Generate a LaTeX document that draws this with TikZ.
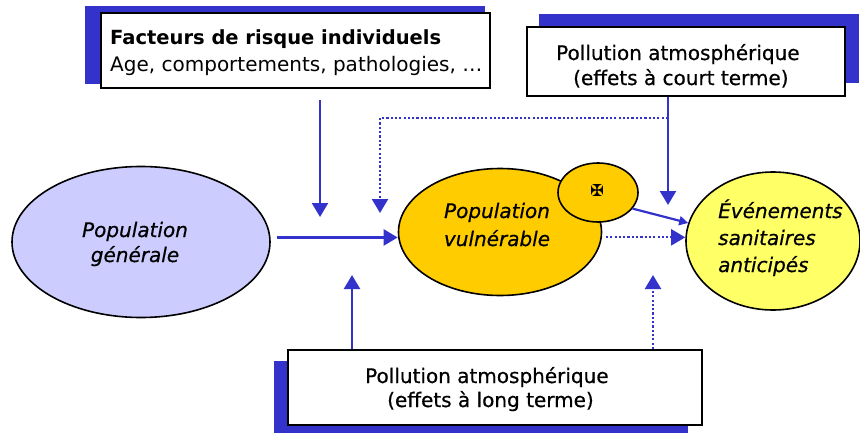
\documentclass[tikz,border=0pt]{standalone}
\usepackage{fontspec}
\setmainfont{DejaVu Sans}
\newfontfamily\epais[FakeBold=0.6]{DejaVu Sans}
\usepackage{tikz}
\usetikzlibrary{positioning,arrows.meta,calc,shapes.geometric}
\definecolor{bleu}{HTML}{3333CC}
\definecolor{mauve}{HTML}{CCCCFF}
\definecolor{orange}{HTML}{FFCC00}
\definecolor{jaune}{HTML}{FFFF66}

\begin{document}
\begin{tikzpicture}[x=1pt, y=-1pt, font=\fontsize{20}{25}\selectfont,
	boite/.style={draw=black, line width=2pt, fill=white, inner sep=0pt},
	ombre/.style={fill=bleu},
	bulle/.style={ellipse, draw=black, line width=1.6pt, inner sep=0pt},
	texte/.style={inner sep=0pt, align=left, anchor=base west},
	fleche/.style={draw=bleu, line width=2.4pt, -{Triangle[length=14pt,width=16pt]}},
	pointille/.style={fleche, line width=2.2pt, dash pattern=on 2.2pt off 2.1pt},
	petitefleche/.style={draw=bleu, line width=2.2pt, -{Triangle[length=9pt,width=9pt]}}]
		\useasboundingbox (0,0) rectangle (860,434);
		% shadows behind the three boxes
		\fill[ombre] (85,6) rectangle (485,84);
		\fill[ombre] (539,14) rectangle (859,83);
		\fill[ombre] (274,361) rectangle (688,433);
		% boxes (base anchor = last line)
		\node[boite, minimum width=389, minimum height=75] (facteurs) at (295.5,50.5) {};
		\node[boite, minimum width=318, minimum height=69] (courtterme) at (686,61.5) {};
		\node[boite, minimum width=414, minimum height=75] (longterme) at (495,387.5) {};
		\node[texte, font=\fontsize{20}{27}\selectfont] (facteurstxt) at (110,71)
			{{\fontsize{19.5}{27}\selectfont\bfseries Facteurs de risque individuels}\\Age, comportements, pathologies, …};
		\node[texte, font=\fontsize{20}{25}\selectfont\epais] (courttermetxt) at (556,85)
			{Pollution atmosphérique\\\hspace*{17pt}(effets à court terme)};
		\node[texte, font=\fontsize{20}{24}\selectfont\epais] (longtermetxt) at (365,407)
			{Pollution atmosphérique\\\hspace*{22pt}(effets à long terme)};
		% populations and outcomes
		\node[bulle, fill=mauve, minimum width=258, minimum height=151] (popgen) at (141,242) {};
		\node[bulle, fill=orange, minimum width=203, minimum height=127] (popvul) at (500,232) {};
		\node[bulle, fill=orange, minimum width=80, minimum height=59] (petit) at (598,192.5) {};
		\node[inner sep=0pt, font=\fontsize{16}{16}\selectfont\epais] (croix) at (597,190) {✠};
		\node[bulle, fill=jaune, minimum width=174, minimum height=138] (evenements) at (773,241) {};
		\node[texte, anchor=base, align=center, font=\fontsize{20}{25}\selectfont\epais\itshape]
			(popgentxt) at (135,262) {Population\\générale};
		\node[texte, anchor=base, align=center, font=\fontsize{20}{28}\selectfont\epais\itshape]
			(popvultxt) at (497,246) {Population\\vulnérable};
		\node[texte, font=\fontsize{20}{27}\selectfont\epais\itshape]
			(evenementstxt) at (718,272) {Événements\\sanitaires\\anticipés};
		% end points of the free arrows
		\coordinate (f1) at (320,217);
		\coordinate (c1) at (668,205);
		\coordinate (branche) at (668,118);
		\coordinate (v1) at (380,213);
		\coordinate (l1) at (352,275);
		\coordinate (l2) at (653,275);
		% arrows
		\draw[fleche, shorten <=11pt] (facteurs.south -| f1) -- (f1);
		\draw[fleche] (courtterme.south -| c1) -- (c1);
		\draw[pointille] (branche) -| (v1);
		\draw[fleche, shorten <=6pt] (popgen.2) -- (popgen.2 -| popvul.west);
		\draw[pointille, shorten <=4pt] (popvul.-3) -- (popvul.-3 -| evenements.west);
		\draw[petitefleche] (petit.-25) -- (evenements.168);
		\draw[fleche] (longterme.north -| l1) -- (l1);
		\draw[pointille] (longterme.north -| l2) -- (l2);
	\end{tikzpicture}
\end{document}
